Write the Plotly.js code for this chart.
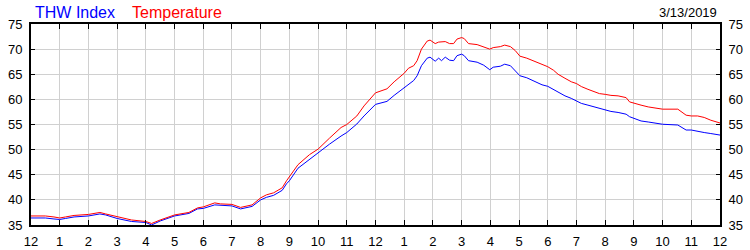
<!DOCTYPE html>
<html>
<head>
<meta charset="utf-8">
<script src="https://cdn.plot.ly/plotly-3.0.1.min.js"></script>
<style>html,body{margin:0;padding:0;background:#fff;}#chart{width:750px;height:250px;}</style>
</head>
<body>
<div id="chart"></div>
<script>
// hours since midnight
const hours = [0.0,0.5,0.8,1.0,1.2,1.5,2.0,2.4,2.6,3.0,3.5,4.0,4.2,4.5,5.0,5.5,5.8,6.0,6.4,6.6,7.0,7.3,7.7,8.0,8.2,8.45,8.75,8.9,9.0,9.3,9.7,10.0,10.4,10.8,11.0,11.35,11.6,12.0,12.4,12.65,13.0,13.15,13.33,13.45,13.6,13.8,13.9,14.08,14.2,14.3,14.43,14.58,14.72,14.84,15.0,15.09,15.24,15.54,15.77,15.98,16.1,16.35,16.5,16.7,16.87,17.03,17.27,17.5,17.8,18.0,18.2,18.36,18.6,18.82,19.0,19.17,19.4,19.64,19.8,20.0,20.2,20.45,20.73,20.85,21.0,21.25,21.5,21.83,22.0,22.53,22.82,23.0,23.22,23.45,23.68,24.0];
const temperature = [36.8,36.8,36.6,36.4,36.6,36.9,37.1,37.5,37.2,36.6,36.0,35.7,35.3,36.0,37.0,37.5,38.4,38.6,39.4,39.2,39.1,38.5,39.0,40.4,41.0,41.4,42.4,43.8,44.6,47.0,49.0,50.1,52.3,54.4,55.0,56.7,58.7,61.3,62.1,63.5,65.2,66.2,66.7,67.7,70.0,71.6,71.8,71.1,71.4,71.4,71.5,71.1,71.1,72.0,72.3,72.1,71.1,70.9,70.5,70.0,70.3,70.5,70.8,70.5,69.7,68.6,68.2,67.7,67.0,66.5,65.8,65.0,64.2,63.5,63.15,62.55,62.0,61.55,61.15,61.0,60.8,60.7,60.35,59.5,59.2,58.85,58.5,58.2,58.05,58.05,56.85,56.7,56.7,56.4,55.85,55.3];
const thwIndex = [36.4,36.4,36.2,36.1,36.3,36.6,36.8,37.2,37.0,36.3,35.7,35.5,35.0,35.8,36.8,37.3,38.2,38.3,39.0,38.9,38.8,38.2,38.7,40.0,40.5,40.9,41.9,43.2,43.8,46.3,48.1,49.4,51.1,52.7,53.4,55.1,56.7,59.0,59.6,60.8,62.4,63.1,63.75,64.7,66.7,68.2,68.4,67.6,68.2,67.7,68.4,67.8,67.7,68.7,69.0,68.7,67.7,67.4,66.8,65.9,66.4,66.6,67.0,66.7,65.7,64.7,64.3,63.75,62.9,62.6,62.0,61.4,60.7,60.2,59.7,59.2,58.85,58.5,58.2,57.85,57.6,57.4,57.05,56.55,56.2,55.7,55.5,55.2,55.05,54.9,53.9,53.9,53.6,53.4,53.2,52.9];
const xTickVals = [0,1,2,3,4,5,6,7,8,9,10,11,12,13,14,15,16,17,18,19,20,21,22,23,24];
const xTickText = ["12","1","2","3","4","5","6","7","8","9","10","11","12","1","2","3","4","5","6","7","8","9","10","11","12"];
const yTickVals = [35,40,45,50,55,60,65,70,75];
const dateLabel = "3/13/2019";

const font = {family: "Liberation Sans, Arial, sans-serif", size: 13, color: "#000"};

const traces = [
  {x: hours, y: thwIndex, type: "scatter", mode: "lines", line: {color: "#0000ff", width: 1}, hoverinfo: "skip"},
  {x: hours, y: temperature, type: "scatter", mode: "lines", line: {color: "#ff0000", width: 1}, hoverinfo: "skip"},
  {x: [hours[0]], y: [temperature[0]], yaxis: "y2", type: "scatter", mode: "lines", line: {color: "rgba(0,0,0,0)"}, hoverinfo: "skip"}
];

const yCommon = {
  range: [35, 75], tickvals: yTickVals, ticks: "inside", ticklen: 4, tickcolor: "#000",
  showline: true, linecolor: "#000", linewidth: 2, tickfont: font, zeroline: false,
  fixedrange: true, ticklabelstandoff: 4
};

const layout = {
  width: 750, height: 250,
  margin: {l: 31, r: 30, t: 24, b: 25, pad: 0},
  paper_bgcolor: "#fff", plot_bgcolor: "#fff",
  showlegend: false,
  font: font,
  xaxis: {
    range: [0, 24], tickvals: xTickVals, ticktext: xTickText,
    showgrid: true, gridcolor: "#d0d0d0", gridwidth: 1,
    ticks: "inside", ticklen: 5, tickcolor: "#000",
    showline: true, linecolor: "#000", linewidth: 2, mirror: "ticks",
    tickfont: font, zeroline: false, fixedrange: true, ticklabelstandoff: 3
  },
  yaxis: Object.assign({}, yCommon, {showgrid: true, gridcolor: "#d0d0d0", gridwidth: 1, side: "left"}),
  yaxis2: Object.assign({}, yCommon, {overlaying: "y", side: "right", showgrid: false}),
  annotations: [
    {text: "THW Index", xref: "paper", yref: "paper", x: 0.003, y: 1 + 12/201, xanchor: "left", yanchor: "middle", showarrow: false, font: {family: font.family, size: 16, color: "#0000ff"}},
    {text: "Temperature", xref: "paper", yref: "paper", x: (130-31)/689, y: 1 + 12/201, xanchor: "left", yanchor: "middle", showarrow: false, font: {family: font.family, size: 16, color: "#ff0000"}},
    {text: dateLabel, xref: "paper", yref: "paper", x: (719-31)/689, y: 1 + 12/201, xanchor: "right", yanchor: "middle", showarrow: false, font: {family: font.family, size: 13, color: "#000"}}
  ]
};

Plotly.newPlot("chart", traces, layout, {staticPlot: true, displayModeBar: false});
</script>
</body>
</html>
